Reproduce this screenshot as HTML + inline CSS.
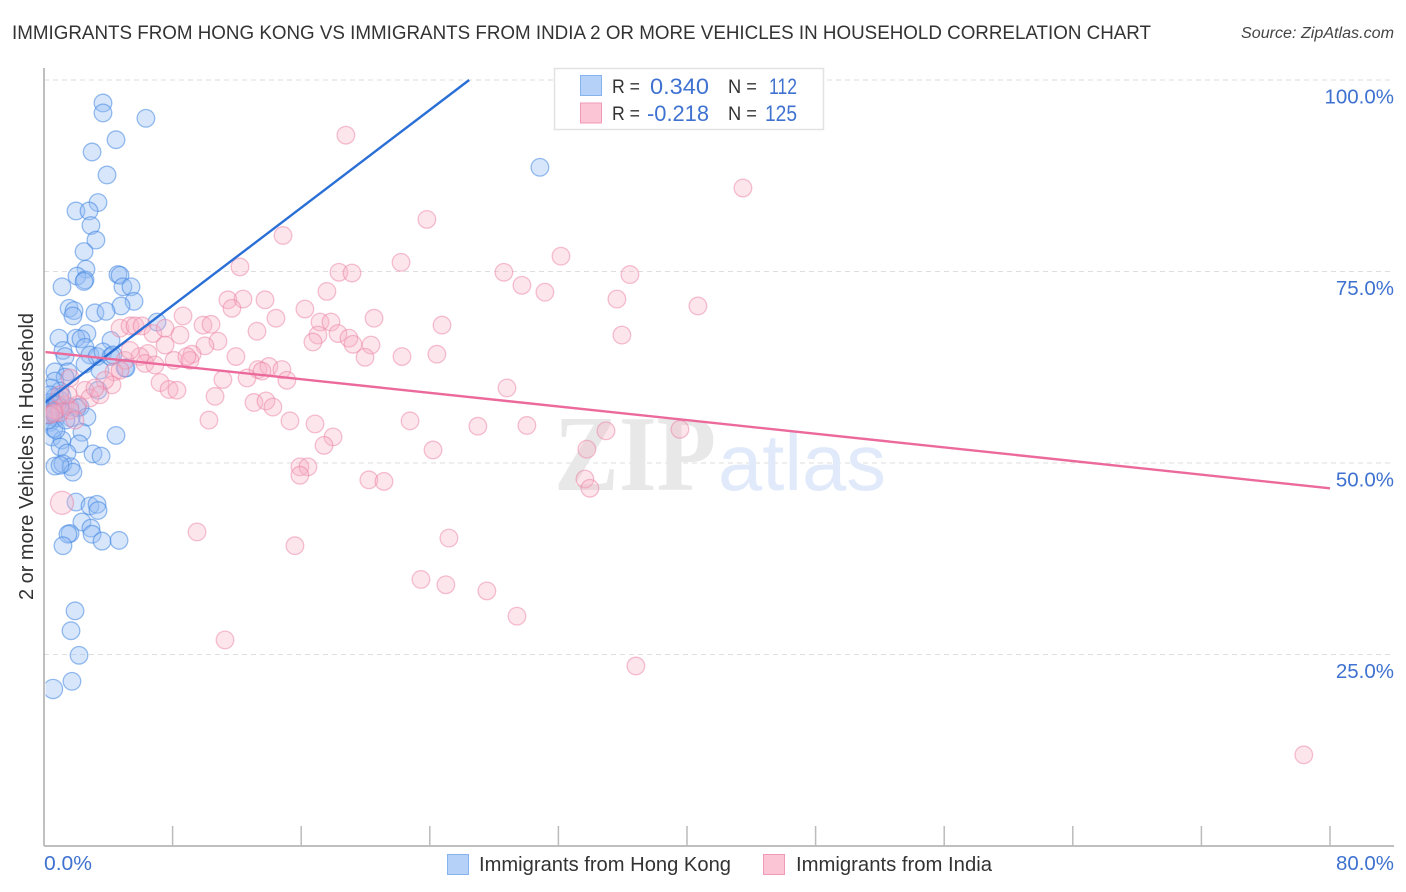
<!DOCTYPE html>
<html lang="en">
<head>
<meta charset="utf-8">
<title>Immigrants from Hong Kong vs Immigrants from India Correlation Chart</title>
<style>
html,body{margin:0;padding:0;background:#fff;}
body{width:1406px;height:892px;overflow:hidden;font-family:"Liberation Sans",sans-serif;}
svg{display:block;}
svg text{font-family:"Liberation Sans",sans-serif;}
</style>
</head>
<body>
<svg id="chart" width="1406" height="892" viewBox="0 0 1406 892" xmlns="http://www.w3.org/2000/svg">
  <defs><clipPath id="plot-clip"><rect x="45.5" y="60" width="1350" height="786"/></clipPath></defs>
  <text x="12" y="39" font-size="19.5" fill="#333" textLength="1139" lengthAdjust="spacingAndGlyphs">IMMIGRANTS FROM HONG KONG VS IMMIGRANTS FROM INDIA 2 OR MORE VEHICLES IN HOUSEHOLD CORRELATION CHART</text>
  <text x="1241" y="38" font-size="15.5" font-style="italic" fill="#444" textLength="153" lengthAdjust="spacingAndGlyphs">Source: ZipAtlas.com</text>

  <g id="grid"></g>

  <g>
    <text x="554" y="490" style="font-family:'Liberation Serif',serif" font-size="108" font-weight="700" fill="#e8e8e8" textLength="162" lengthAdjust="spacingAndGlyphs">ZIP</text>
    <text x="718" y="490" style="font-family:'Liberation Sans',sans-serif" font-size="80" fill="#e1eafa" textLength="168" lengthAdjust="spacingAndGlyphs">atlas</text>
  </g>

  <line x1="44" y1="68" x2="44" y2="846" stroke="#aaa" stroke-width="1.5"/>
  <line x1="44" y1="846" x2="1394" y2="846" stroke="#aaa" stroke-width="1.5"/>
  <g id="xticks"></g>
  <g id="ylabels"></g>

  <text x="44" y="870" font-size="20" fill="#3f72d0" textLength="48" lengthAdjust="spacingAndGlyphs">0.0%</text>
  <text x="1336" y="870" font-size="20" fill="#3f72d0" textLength="58" lengthAdjust="spacingAndGlyphs">80.0%</text>
  <text transform="translate(33 600) rotate(-90)" font-size="20" fill="#333" textLength="287" lengthAdjust="spacingAndGlyphs">2 or more Vehicles in Household</text>

  <g clip-path="url(#plot-clip)">
    <g id="points-hk"></g>
    <g id="points-in"></g>
    <g id="trends"></g>
  </g>

  <g>
    <rect x="554.5" y="68.5" width="269" height="61" fill="#fff" stroke="#e2e2e2" stroke-width="1.5"/>
    <rect x="580.5" y="75.5" width="21" height="20" fill="#b5d1f7" stroke="#86b2ee"/>
    <rect x="580.5" y="103" width="21" height="20" fill="#fcc5d6" stroke="#f09ab6"/>
    <text x="612" y="93" font-size="19" fill="#333" textLength="28" lengthAdjust="spacingAndGlyphs">R =</text>
    <text x="650" y="94" font-size="22" fill="#3f72d0" textLength="59" lengthAdjust="spacingAndGlyphs">0.340</text>
    <text x="728" y="93" font-size="19" fill="#333" textLength="29" lengthAdjust="spacingAndGlyphs">N =</text>
    <text x="769" y="94" font-size="22" fill="#3f72d0" textLength="28" lengthAdjust="spacingAndGlyphs">112</text>
    <text x="612" y="120" font-size="19" fill="#333" textLength="28" lengthAdjust="spacingAndGlyphs">R =</text>
    <text x="647" y="121" font-size="22" fill="#3f72d0" textLength="62" lengthAdjust="spacingAndGlyphs">-0.218</text>
    <text x="728" y="120" font-size="19" fill="#333" textLength="29" lengthAdjust="spacingAndGlyphs">N =</text>
    <text x="765" y="121" font-size="22" fill="#3f72d0" textLength="32" lengthAdjust="spacingAndGlyphs">125</text>
  </g>

  <g>
    <rect x="447.5" y="854.5" width="21" height="20" fill="#b5d1f7" stroke="#86b2ee"/>
    <text x="479" y="871" font-size="20" fill="#333" textLength="252" lengthAdjust="spacingAndGlyphs">Immigrants from Hong Kong</text>
    <rect x="763.5" y="854.5" width="21" height="20" fill="#fcc5d6" stroke="#f09ab6"/>
    <text x="796" y="871" font-size="20" fill="#333" textLength="196" lengthAdjust="spacingAndGlyphs">Immigrants from India</text>
  </g>
</svg>
<script>
const xTickValues = [0, 8, 16, 24, 32, 40, 48, 56, 64, 72, 80];
const yGridValues = [100, 75, 50, 25];
const yTickLabels = ['100.0%', '75.0%', '50.0%', '25.0%'];

const hkX = [3.67,3.67,6.34,4.48,2.99,3.92,3.36,1.99,2.80,2.92,3.23,2.49,2.61,2.05,2.55,2.49,4.60,4.73,4.91,5.41,1.12,5.60,4.79,1.56,1.87,1.80,3.17,3.86,2.67,1.99,2.30,0.93,4.17,7.03,1.18,1.31,2.55,2.86,3.30,3.67,4.17,5.04,5.10,2.55,1.49,0.68,1.31,0.68,1.00,0.44,0.68,0.50,1.62,2.24,2.05,2.67,0.37,0.68,1.68,0.50,2.36,1.12,2.18,1.00,1.43,3.05,3.55,4.48,0.68,1.18,1.68,1.80,1.00,1.99,2.86,3.30,3.36,2.36,2.92,2.99,3.61,4.67,1.62,1.49,1.18,1.93,1.68,2.18,1.74,30.85,3.48,3.36,4.29,1.00,0.37,0.50,0.62,0.87,0.75,0.37,0.25,0.56,1.12,0.37,0.75,0.25,1.00,1.37,0.81,0.62,0.25];
const hkY = [97.0,95.7,95.0,92.2,90.6,87.6,84.0,82.9,82.9,81.0,79.1,77.6,75.3,74.4,73.9,73.7,74.6,74.5,73.0,73.0,73.0,71.1,70.5,70.2,69.9,69.2,69.6,69.8,66.9,66.3,66.2,66.3,66.0,68.4,64.7,63.9,65.1,64.1,63.9,64.5,63.9,62.4,62.4,62.9,61.9,61.9,61.2,60.7,59.4,59.8,58.6,57.7,57.3,57.3,57.2,56.0,55.3,56.2,55.9,53.4,54.0,53.0,52.5,52.1,51.3,51.2,50.9,53.6,49.6,49.9,49.5,48.8,49.7,44.9,44.4,44.6,43.8,42.3,41.5,40.7,39.8,39.9,40.8,40.7,39.2,30.7,28.1,24.9,21.5,88.6,62.1,59.5,64.1,58.2,57.9,56.9,54.5,56.9,55.9,56.6,57.2,57.6,58.7,58.9,54.3,55.6,57.2,55.6,57.6,56.7,56.3];

const inX = [18.78,43.48,23.82,14.87,32.16,22.21,12.19,18.35,19.16,28.61,36.45,29.73,31.16,17.60,35.64,40.68,11.44,12.38,13.75,11.69,16.23,14.43,20.53,8.65,24.76,9.89,10.39,4.73,5.35,5.66,6.10,6.78,7.53,8.46,13.25,17.17,17.85,18.29,17.04,16.73,18.97,19.22,20.34,10.82,10.01,35.95,22.27,24.44,19.97,11.94,5.04,6.47,5.97,7.53,8.09,9.21,9.08,8.89,6.28,4.35,13.31,13.99,14.80,13.56,15.11,11.13,12.63,7.22,7.78,8.27,10.64,13.06,13.81,14.24,28.80,10.26,15.30,16.86,17.98,17.42,22.77,26.99,30.04,34.96,39.56,24.20,33.77,15.92,16.42,15.92,20.21,21.15,33.65,33.96,9.52,15.61,25.19,23.45,25.00,27.55,29.42,11.26,36.82,78.37,4.23,3.79,2.55,1.62,0.68,1.00,1.31,2.86,2.11,3.48,3.17,4.73,5.35,6.90,1.00,1.62,0.37,1.93,1.49,0.62];
const inY = [92.8,85.9,81.8,79.7,77.0,76.2,75.6,74.9,74.8,74.9,74.6,73.2,72.3,72.4,71.4,70.5,71.3,71.4,71.3,70.2,70.1,68.9,68.9,69.2,68.0,68.0,68.1,67.6,67.9,67.9,67.9,66.9,67.6,66.7,67.2,68.4,68.4,66.9,66.7,65.8,66.3,65.5,65.4,65.9,65.3,66.7,63.9,64.2,63.8,63.9,63.4,64.3,63.9,65.4,63.4,64.2,63.4,63.9,63.0,61.9,62.2,62.6,62.2,62.0,60.8,60.9,61.1,60.5,59.6,59.5,58.7,57.9,58.1,57.3,59.8,55.6,55.5,55.1,53.4,52.3,55.5,54.8,54.9,54.2,54.4,51.7,51.8,49.5,49.5,48.4,47.8,47.6,47.9,46.7,41.0,39.2,40.2,34.8,34.1,33.3,30.0,26.9,23.5,11.9,60.2,60.8,59.5,61.1,56.9,56.6,57.6,58.5,57.6,58.9,59.8,62.1,64.7,62.8,58.9,56.9,56.3,55.6,58.9,56.5];

const bigHkPoint = [0.56, 20.5];
const bigInPoint = [1.12, 44.8];

const hkTrendX = [0, 26.45];
const hkTrendY = [57.8, 100];
const inTrendX = [0, 80];
const inTrendY = [64.5, 46.7];

const SVG_NS = 'http://www.w3.org/2000/svg';
function xScale(v) { return 44 + v * (1330 - 44) / 80; }
function yScale(v) { return 846 - v * 7.66; }

function make(parent, tag, attrs) {
  const el = document.createElementNS(SVG_NS, tag);
  for (const k in attrs) el.setAttribute(k, attrs[k]);
  parent.appendChild(el);
  return el;
}

const gridGroup = document.getElementById('grid');
yGridValues.forEach(function (v) {
  const line = make(gridGroup, 'line', {x1: 44, x2: 1394, y1: yScale(v), y2: yScale(v), stroke: '#dedede', 'stroke-width': 1, 'stroke-dasharray': '5 4'});
  
  
});

const tickGroup = document.getElementById('xticks');
xTickValues.forEach(function (v) {
  const tick = make(tickGroup, 'line', {x1: xScale(v), x2: xScale(v), y1: 826, y2: 846, stroke: '#bbb', 'stroke-width': 1.5});
  
  
});

const labelGroup = document.getElementById('ylabels');
yGridValues.forEach(function (v, i) {
  const label = make(labelGroup, 'text', {x: 1394, y: yScale(v) + 23.5, 'font-size': 20.5, fill: '#3f72d0', 'text-anchor': 'end'});
  label.textContent = yTickLabels[i];
  
  
});

function drawPoint(group, xv, yv, r, fill, stroke, name) {
  const c = make(group, 'circle', {cx: xScale(xv), cy: yScale(yv), r: r, fill: fill, stroke: stroke, 'stroke-width': 1.3});
  
  
}

const hkFill = 'rgba(150,190,245,0.38)';
const hkStroke = 'rgba(60,130,225,0.52)';
const inFill = 'rgba(248,175,198,0.33)';
const inStroke = 'rgba(235,125,160,0.48)';

const hkGroup = document.getElementById('points-hk');
hkX.forEach(function (xv, i) { drawPoint(hkGroup, xv, hkY[i], 8.8, hkFill, hkStroke, 'hong-kong-point'); });
drawPoint(hkGroup, bigHkPoint[0], bigHkPoint[1], 9.6, hkFill, hkStroke, 'hong-kong-point');

const inGroup = document.getElementById('points-in');
inX.forEach(function (xv, i) { drawPoint(inGroup, xv, inY[i], 8.8, inFill, inStroke, 'india-point'); });
drawPoint(inGroup, bigInPoint[0], bigInPoint[1], 11.5, inFill, inStroke, 'india-point');

const trendGroup = document.getElementById('trends');
const hkTrend = make(trendGroup, 'line', {x1: xScale(hkTrendX[0]), y1: yScale(hkTrendY[0]), x2: xScale(hkTrendX[1]), y2: yScale(hkTrendY[1]), stroke: '#2a6fd6', 'stroke-width': 2.4});


const inTrend = make(trendGroup, 'line', {x1: xScale(inTrendX[0]), y1: yScale(inTrendY[0]), x2: xScale(inTrendX[1]), y2: yScale(inTrendY[1]), stroke: '#ec6a9b', 'stroke-width': 2.4});


</script>
</body>
</html>
